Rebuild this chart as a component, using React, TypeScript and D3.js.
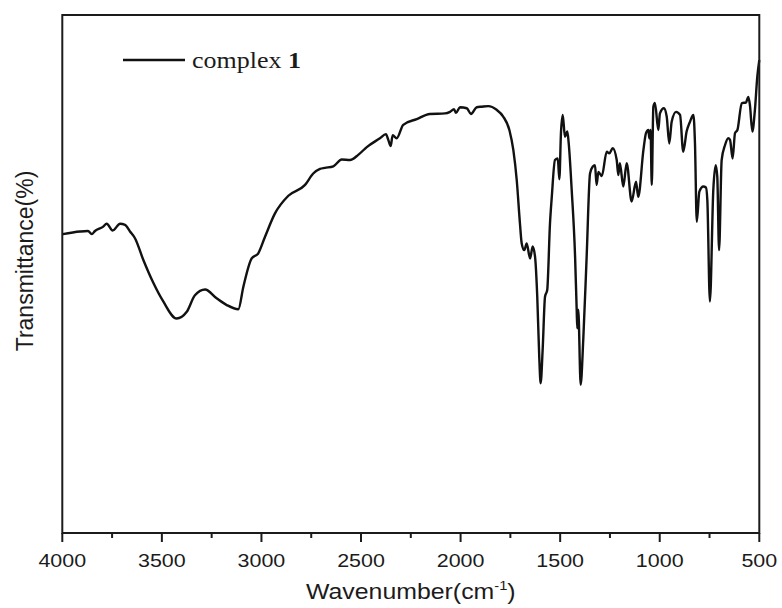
import React from "react";
import * as d3 from "d3";

// IR spectrum of complex 1
const wavenumbers = [
  3998, 3911, 3871, 3852, 3836, 3796, 3777, 3747, 3710, 3685, 3660, 3635, 3593,
  3543, 3493, 3426, 3375, 3334, 3283, 3225, 3174, 3116, 3091, 3049, 3016, 2982,
  2932, 2865, 2781, 2740, 2706, 2681, 2639, 2597, 2555, 2514, 2471, 2405, 2375,
  2363, 2351, 2341, 2321, 2288, 2220, 2154, 2078, 2053, 2033, 2023, 2003, 1969,
  1948, 1919, 1894, 1861, 1819, 1786, 1755, 1735, 1718, 1702, 1693, 1680, 1668,
  1651, 1638, 1626, 1615, 1605, 1598, 1588, 1576, 1565, 1551, 1542, 1526, 1512,
  1504, 1496, 1487, 1476, 1464, 1457, 1442, 1425, 1417, 1414, 1409, 1397, 1384,
  1367, 1350, 1337, 1325, 1317, 1308, 1291, 1266, 1253, 1236, 1216, 1208, 1200,
  1183, 1166, 1141, 1119, 1108, 1082, 1069, 1057, 1052, 1046, 1040, 1032, 1024,
  1007, 999, 979, 965, 952, 940, 918, 898, 882, 865, 848, 831, 823, 814, 801,
  781, 768, 761, 748, 731, 719, 711, 702, 689, 672, 656, 647, 634, 622, 610,
  588, 567, 555, 547, 535, 522, 510, 500,
];
const transmittance = [
  57.7, 58.2, 58.3, 57.7, 58.3, 59.1, 59.7, 58.4, 59.7, 59.5, 58.2, 56.9, 52.7,
  48.3, 44.7, 41.4, 42.7, 45.9, 47.0, 45.3, 44.0, 43.2, 47.5, 53.0, 54.0, 57.2,
  61.7, 65.1, 67.2, 69.4, 70.3, 70.5, 70.8, 72.1, 72.0, 73.0, 74.5, 76.2, 77.0,
  75.9, 74.7, 76.8, 76.2, 78.8, 79.9, 80.9, 81.0, 81.3, 81.8, 81.1, 82.2, 82.0,
  80.9, 82.2, 82.3, 82.4, 81.7, 80.4, 77.8, 73.9, 68.1, 59.8, 55.9, 54.6, 55.9,
  53.0, 55.3, 53.3, 45.6, 34.0, 28.9, 35.3, 45.6, 46.9, 59.8, 64.9, 72.0, 72.3,
  68.3, 77.2, 80.7, 76.5, 77.5, 75.2, 66.2, 53.3, 43.1, 39.5, 43.1, 28.6, 37.3,
  53.3, 69.4, 70.7, 71.0, 67.2, 69.7, 68.9, 73.6, 73.3, 74.3, 72.0, 69.1, 71.4,
  66.9, 71.4, 64.0, 67.8, 64.9, 73.9, 77.2, 77.8, 76.2, 77.8, 67.2, 82.3, 83.0,
  77.8, 81.0, 82.0, 80.4, 75.2, 79.4, 81.3, 80.7, 73.6, 77.5, 79.4, 80.7, 75.2,
  60.1, 65.9, 66.9, 66.7, 64.3, 44.7, 66.2, 71.0, 68.8, 54.6, 72.0, 74.9, 76.2,
  75.9, 72.3, 77.2, 77.8, 83.0, 83.1, 84.2, 82.6, 77.5, 81.7, 88.1, 91.3,
];
const majorTicks = [4000, 3500, 3000, 2500, 2000, 1500, 1000, 500];
const minorTicks = [3750, 3250, 2750, 2250, 1750, 1250, 750];
const seriesName = "complex ";
const seriesNumber = "1";

const W = 782;
const H = 608;
const margin = { top: 15, right: 22.7, bottom: 75, left: 62.3 };
const stretch = 1.13; // the reference text is a little wider than tall
const ink = "#1b1b1b";

export default function App() {
  const x = d3
    .scaleLinear()
    .domain([4000, 500])
    .range([margin.left, W - margin.right]);
  const y = d3
    .scaleLinear()
    .domain([0, 100])
    .range([H - margin.bottom, margin.top]);

  const points = wavenumbers.map((w, i) => [w, transmittance[i]] as [number, number]);
  const line = d3
    .line<[number, number]>()
    .x((d) => x(d[0]))
    .y((d) => y(d[1]))
    .curve(d3.curveMonotoneX);

  const bottom = H - margin.bottom;
  const left = margin.left;
  const right = W - margin.right;
  const top = margin.top;

  return (
    <svg
      width={W}
      height={H}
      style={{ position: "absolute", left: 0, top: 0, background: "#fff" }}
    >
      {/* spectrum */}
      <path
        d={line(points) ?? ""}
        fill="none"
        stroke="#111"
        strokeWidth={2.4}
        strokeLinejoin="round"
      />

      {/* frame */}
      <rect
        x={left}
        y={top}
        width={right - left}
        height={bottom - top}
        fill="none"
        stroke={ink}
        strokeWidth={2}
      />

      {/* bottom ticks */}
      {majorTicks.map((t) => (
        <g key={t}>
          <line x1={x(t)} x2={x(t)} y1={bottom} y2={bottom + 9} stroke={ink} strokeWidth={2} />
          <text
            transform={`translate(${x(t)},${bottom + 34}) scale(${stretch},1)`}
            textAnchor="middle"
            fontFamily="'Liberation Sans', Arial, sans-serif"
            fontSize={19}
            fill={ink}
          >
            {t}
          </text>
        </g>
      ))}
      {minorTicks.map((t) => (
        <line key={t} x1={x(t)} x2={x(t)} y1={bottom} y2={bottom + 5} stroke={ink} strokeWidth={2} />
      ))}

      {/* axis titles */}
      <text
        transform={`translate(${(left + right) / 2},${bottom + 66}) scale(${stretch},1)`}
        textAnchor="middle"
        fontFamily="'Liberation Sans', Arial, sans-serif"
        fontSize={22}
        fill={ink}
      >
        Wavenumber(cm
        <tspan fontSize={13} dy={-9}>-1</tspan>
        <tspan dy={9}>)</tspan>
      </text>
      <text
        transform={`translate(33,261) rotate(-90)`}
        textAnchor="middle"
        fontFamily="'Liberation Sans', Arial, sans-serif"
        fontSize={23}
        fill={ink}
      >
        Transmittance(%)
      </text>

      {/* legend */}
      <line x1={123} x2={185} y1={60} y2={60} stroke="#111" strokeWidth={2.4} />
      <text
        transform={`translate(192,68) scale(${stretch},1)`}
        fontFamily="'Liberation Serif', 'Times New Roman', serif"
        fontSize={23}
        fill={ink}
      >
        {seriesName}
        <tspan fontWeight="bold">{seriesNumber}</tspan>
      </text>
    </svg>
  );
}
